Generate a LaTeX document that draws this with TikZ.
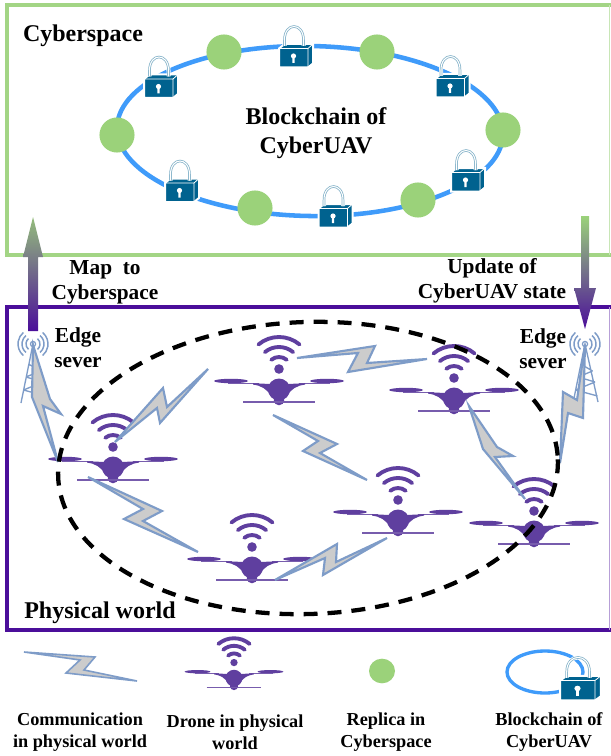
\documentclass[tikz,border=0pt]{standalone}
\usepackage{fontspec}
\usetikzlibrary{shapes.geometric}
\setmainfont{Liberation Serif}
\definecolor{frameG}{HTML}{A3D585}
\definecolor{frameP}{HTML}{4B0E9A}
\definecolor{ringB}{HTML}{3F9BFA}
\definecolor{repl}{HTML}{9BD27A}
\definecolor{lockB}{HTML}{00628F}
\definecolor{droneP}{HTML}{5F3F9F}
\definecolor{boltE}{HTML}{7E9CC8}
\definecolor{boltF}{HTML}{CCCCCC}
\tikzset{
  x=0.75pt,y=-0.75pt,
  lab/.style={font=\bfseries\fontsize{16}{18.6}\selectfont,align=center,inner sep=0pt,text=black},
  bigl/.style={font=\bfseries\fontsize{18}{21.6}\selectfont,align=center,inner sep=0pt,text=black},
  leg/.style={font=\bfseries\fontsize{13.7}{16.2}\selectfont,align=center,inner sep=0pt,text=black},
  bolt/.style={draw=boltE,fill=boltF,line width=1.6pt,line join=miter},
  replica/.style={circle,fill=repl,minimum size=26.3pt,inner sep=0pt},
  drone/.pic={
    \fill[droneP] (0,-19) circle (4.8);
    \foreach \r in {12,22,32}{
      \draw[droneP,line width=2.9pt,line cap=round] (0,-19) ++(-50:\r) arc[start angle=-50,end angle=-130,radius=\r];
    }
    \fill[droneP] (-48,-7) ellipse (17 and 2.2);
    \fill[droneP] (48,-7) ellipse (17 and 2.2);
    \draw[droneP!85,line width=.9pt] (-51,-4.2) -- (-20,-4.2);
    \draw[droneP!85,line width=.9pt] (51,-4.2) -- (20,-4.2);
    \fill[droneP] (-26,-4.8) -- (-9,-4) -- (-8,-6) -- (8,-6) -- (9,-4) -- (26,-4.8) -- (26,-3.4)
      .. controls (18,-2.5) and (12,1) .. (8,8) -- (-8,8) .. controls (-12,1) and (-18,-2.5) .. (-26,-3.4) -- cycle;
    \fill[droneP] (0,1.5) circle (11);
    \fill[droneP] (0,12) circle (5.3);
    \draw[droneP!85,line width=.9pt] (-36,14) -- (36,14);
  },
  padlock/.pic={
    \fill[lockB,draw=white,line width=1.5pt] (-14.5,-9.5) -- (-9,-14) -- (19.5,-14) -- (19.5,5.5) -- (14.5,9.5) -- (-14.5,9.5) -- cycle;
    \draw[white,line width=3pt] (-9,-12) -- (-9,-18) .. controls (-9,-36) and (10,-36) .. (10,-18) -- (10,-12);
    \draw[lockB!50,line width=1.9pt] (-9,-12) -- (-9,-18) .. controls (-9,-36) and (10,-36) .. (10,-18) -- (10,-12);
    \draw[white,line width=.8pt] (-9,-12) -- (-9,-18) .. controls (-9,-36) and (10,-36) .. (10,-18) -- (10,-12);
    \fill[lockB] (-6,-12) -- (7,-12) -- (9,-10) -- (-8,-10) -- cycle;
    \draw[white,line width=.6pt] (-14.5,-9.5) -- (14.5,-9.5) -- (14.5,9.5) (14.5,-9.5) -- (19.5,-14);
    \fill[white] (0,-2) circle (2.6);
    \fill[white] (-1,-2) -- (1,-2) -- (1.2,5) -- (-1.2,5) -- cycle;
  },
  mast/.pic={
    \foreach \a in {-50,130}{
      \foreach \r in {7,11,15}{
        \draw[boltE,line width=1.1pt] (0,0) ++(\a:\r) arc[start angle=\a,delta angle=100,radius=\r];
      }
    }
    \draw[boltE,line width=.9pt] (0,0) circle (2.6);
    \draw[boltE,line width=1pt] (-12,59) -- (0,0) -- (13,58)
      (-9.5,46) -- (10,38) (-7,33) -- (7.5,27) (-7,33) -- (10,38) (-9.5,46) -- (12.5,52) (-4.5,20) -- (7.5,27);
  }
}
\begin{document}
\begin{tikzpicture}
\useasboundingbox (0,0) rectangle (610,756);
\fill[white] (0,0) rectangle (610,756);

% frames
\draw[frameG,line width=3pt] (612,5) -- (7,5) -- (7,255) -- (612,255);
\draw[frameG!60,line width=.8pt] (609.4,5) -- (609.4,255);
\draw[frameP,line width=3pt] (612,307) -- (7,307) -- (7,630) -- (612,630);
\draw[frameP!40,line width=.8pt] (609.4,307) -- (609.4,630);

% ring of the blockchain
\draw[ringB,line width=3.4pt,rotate around={-1:(310,131)}] (310,131) ellipse (193 and 85);
\foreach \n/\p in {r1/{224,52},r2/{377,52},r3/{117,135},r4/{503,130},r5/{255,208},r6/{418,200}}{
  \node[replica] (\n) at (\p) {};
}
\path (158.5,88.5) pic {padlock};
\path (293.5,58) pic {padlock};
\path (450,88) pic {padlock};
\path (465.5,182) pic {padlock};
\path (333,218) pic {padlock};
\path (179.5,192.5) pic {padlock};

% drones
\path (113,466) pic {drone};
\path (279,388) pic {drone};
\path (454,397) pic {drone};
\path (534,530) pic {drone};
\path (398,519) pic {drone};
\path (252,566) pic {drone};

% towers
\path (33,344) pic {mast};
\path (585,344) pic {mast};

% lightning links
\draw[bolt] (33,345) -- (50,399) -- (61,414) -- (43,406) -- (58,462) -- (32,397) -- cycle;
\draw[bolt] (208,369) -- (167,407) -- (163,388) -- (115,442) -- (157,408) -- (160,423) -- cycle;
\draw[bolt] (88,477) -- (162,511) -- (143,521) -- (198,552) -- (124,519) -- (143,509) -- cycle;
\draw[bolt] (297,358) -- (375,346) -- (367,363) -- (427,359) -- (348,372) -- (358,353) -- cycle;
\draw[bolt] (273,415) -- (337,444) -- (320,453) -- (367,480) -- (303,451) -- (318,441) -- cycle;
\draw[bolt] (275,580) -- (337,544) -- (336,562) -- (387,538) -- (323,575) -- (325,558) -- cycle;
\draw[bolt] (469,406) -- (497,447) -- (513,456) -- (495,457) -- (525,499) -- (483,449) -- cycle;
\draw[bolt] (585,345) -- (577,400) -- (563,392) -- (560,463) -- (568,413) -- (583,418) -- cycle;

% swarm boundary
\draw[black,line width=3.2pt,dash pattern=on 10.5pt off 7.5pt,rotate around={2:(308,468)}] (308,468) ellipse (250 and 146);

% arrows between the worlds
\shade[top color=repl!75!gray,bottom color=frameP] (33,217) -- (43,257) -- (38,257) -- (38,331) -- (28,331) -- (28,257) -- (23,257) -- cycle;
\shade[top color=repl,bottom color=frameP] (581,216) -- (589,216) -- (589,288) -- (596,288) -- (585,329) -- (574,288) -- (581,288) -- cycle;

% labels
\node[bigl] (tcyber) at (83,36) {Cyberspace};
\node[bigl] (tchain) at (316,133) {Blockchain of\\CyberUAV};
\node[bigl] (tphys) at (100,613) {Physical world};
\node[lab] (tmap) at (105,282) {Map\ \ to\\Cyberspace};
\node[lab] (tupd) at (492,281) {Update of\\CyberUAV state};
\node[lab] (tedgeL) at (78,348) {Edge\\sever};
\node[lab] (tedgeR) at (543,349) {Edge\\sever};

% legend
\draw[bolt,line width=1.2pt] (24,652) -- (95,657) -- (84,670) -- (137,681) -- (66,673) -- (80,660) -- cycle;
\path (234,677) pic[scale=.76] {drone};
\node[ellipse,fill=repl,minimum width=19.5pt,minimum height=18.5pt,inner sep=0pt] (lrep) at (382,671) {};
\draw[ringB,line width=2.5pt] (545,672) ellipse (38 and 21);
\path (577.5,690.5) pic[xscale=1.2,yscale=1.05] {padlock};
\node[leg] (l1) at (80,732) {Communication\\in physical world};
\node[leg] (l2) at (235,732) {Drone in physical\\world};
\node[leg] (l3) at (386,732) {Replica in\\Cyberspace};
\node[leg] (l4) at (549,732) {Blockchain of\\CyberUAV};
\end{tikzpicture}
\end{document}
